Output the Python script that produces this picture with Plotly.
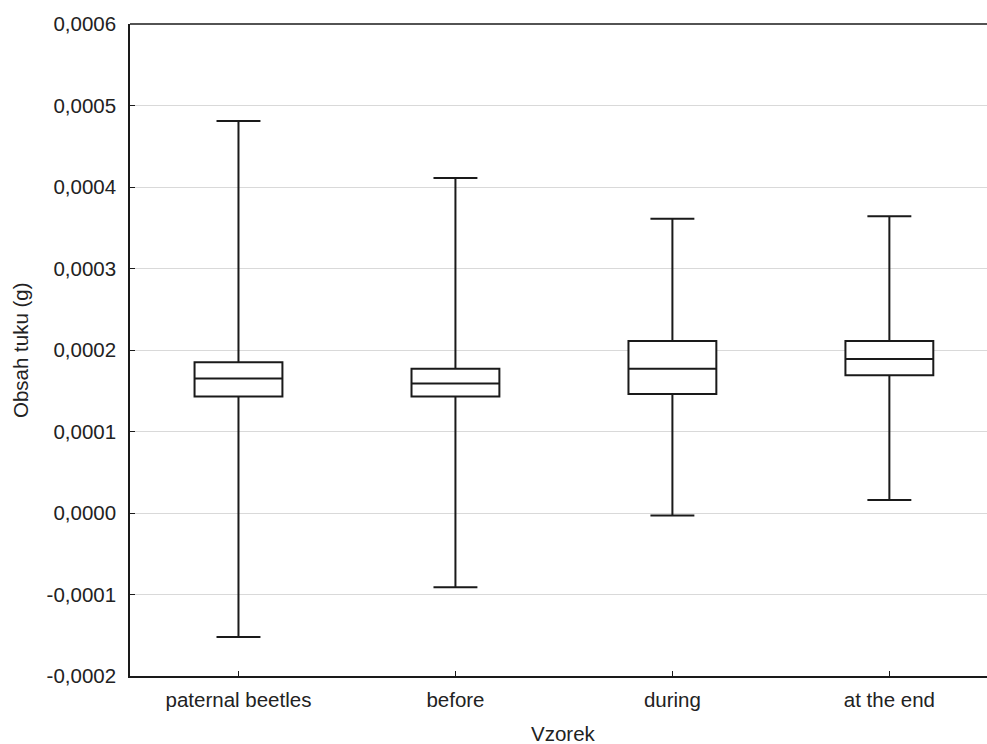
import plotly.graph_objects as go

categories = ["paternal beetles", "before", "during", "at the end"]
upper_whisker = [0.000481, 0.000411, 0.000361, 0.000364]
q3_values = [0.000185, 0.000177, 0.000211, 0.000211]
median_values = [0.000165, 0.000159, 0.000177, 0.000189]
q1_values = [0.000143, 0.000143, 0.000146, 0.000169]
lower_whisker = [-0.000152, -0.000091, -0.000003, 0.000016]

y_tick_values = [-0.0002, -0.0001, 0.0, 0.0001, 0.0002, 0.0003, 0.0004, 0.0005, 0.0006]
y_tick_labels = ["-0,0002", "-0,0001", "0,0000", "0,0001", "0,0002", "0,0003", "0,0004", "0,0005", "0,0006"]

x_title = "Vzorek"
y_title = "Obsah tuku (g)"

FONT = "Liberation Sans, Arial, sans-serif"
LINE = "#1a1a1a"
FS = 20.5

fig = go.Figure()
fig.add_trace(go.Box(
    x=list(range(len(categories))),
    q1=q1_values,
    median=median_values,
    q3=q3_values,
    lowerfence=lower_whisker,
    upperfence=upper_whisker,
    width=0.405,
    whiskerwidth=0.5,
    fillcolor="white",
    line=dict(color=LINE, width=2),
    boxpoints=False,
    showlegend=False,
    hoverinfo="skip",
))

fig.update_layout(
    width=987, height=744,
    autosize=False,
    margin=dict(l=130, r=0, t=24, b=68),
    paper_bgcolor="white",
    plot_bgcolor="white",
    font=dict(family=FONT, size=FS, color="#222222"),
    xaxis=dict(
        range=[-0.5, 3.45],
        tickmode="array",
        tickvals=list(range(len(categories))),
        ticktext=categories,
        showgrid=False,
        zeroline=False,
        showline=True, linecolor=LINE, linewidth=1.5,
        ticks="inside", ticklen=5, tickcolor=LINE, tickwidth=1,
        ticklabelstandoff=5,
        tickfont=dict(size=FS),
    ),
    yaxis=dict(
        range=[-0.0002, 0.0006],
        tickmode="array",
        tickvals=y_tick_values,
        ticktext=y_tick_labels,
        showgrid=True, gridcolor="#d9d9d9", gridwidth=1,
        zeroline=False,
        showline=True, linecolor=LINE, linewidth=1.5,
        ticks="inside", ticklen=5, tickcolor=LINE, tickwidth=1,
        ticklabelstandoff=8,
        tickfont=dict(size=FS),
    ),
    shapes=[dict(type="line", xref="paper", yref="paper", x0=0, x1=1, y0=1, y1=1,
                 line=dict(color=LINE, width=1.5))],
    annotations=[
        dict(text=x_title, xref="x", yref="paper", x=1.5, y=0, yshift=-57,
             xanchor="center", yanchor="middle", showarrow=False, font=dict(size=FS)),
        dict(text=y_title, xref="paper", yref="paper", x=0, xshift=-110, y=0.5,
             xanchor="center", yanchor="middle", textangle=-90, showarrow=False,
             font=dict(size=FS)),
    ],
)

post = ("document.body.style.margin='0';document.body.style.overflow='hidden';"
        "var gd=document.getElementById('{plot_id}');"
        "Plotly.relayout(gd,{width:987,height:744});")

fig.write_html("out.html", config={"responsive": False, "displayModeBar": False},
               post_script=post)
